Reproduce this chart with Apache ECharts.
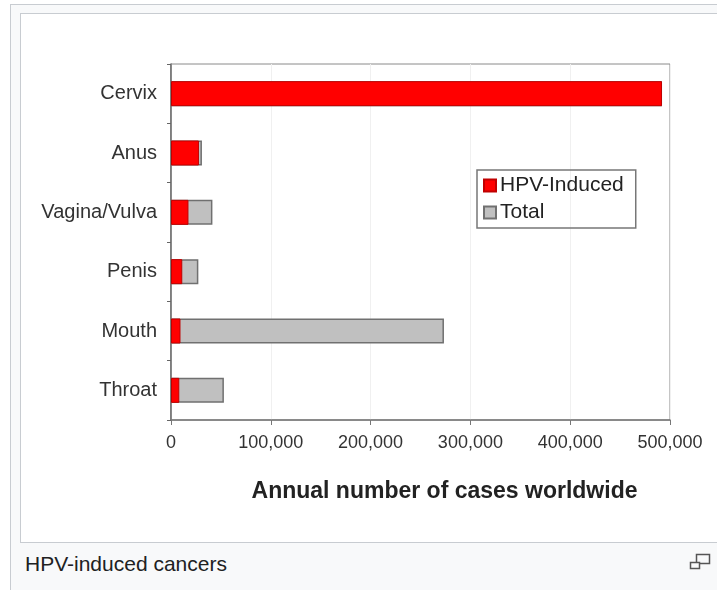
<!DOCTYPE html>
<html>
<head>
<meta charset="utf-8">
<title>HPV-induced cancers</title>
<script src="https://cdn.jsdelivr.net/npm/echarts@6/dist/echarts.min.js"></script>
<style>
  html, body { margin: 0; padding: 0; background: #fff; }
  body { width: 717px; height: 590px; position: relative; overflow: hidden; font-family: "Liberation Sans", Arial, sans-serif; }
  .thumb { position: absolute; left: 10px; top: 4px; width: 720px; height: 600px; background: #f8f9fa; border: 1px solid #c8ccd1; }
  .img { position: absolute; left: 20px; top: 13px; width: 720px; height: 528px; background: #fff; border: 1px solid #c8ccd1; }
  .caption { position: absolute; left: 25px; top: 552px; font-size: 21px; color: #202122; }
  .magnify { position: absolute; left: 689px; top: 553px; width: 26px; height: 18px; }
  #chart { position: absolute; left: 0; top: 0; width: 717px; height: 590px; }
</style>
</head>
<body>
<div class="thumb"></div>
<div class="img"></div>
<div class="caption">HPV-induced cancers</div>
<svg class="magnify" viewBox="0 0 26 18">
  <rect x="7.5" y="1.5" width="13" height="9" fill="none" stroke="#555" stroke-width="1.5"/>
  <rect x="1.5" y="9.5" width="9" height="6" fill="#f8f9fa" stroke="#555" stroke-width="1.5"/>
</svg>
<div id="chart"></div>
<script>
// 数据
var categories = ['Cervix', 'Anus', 'Vagina/Vulva', 'Penis', 'Mouth', 'Throat'];
var hpvInduced = [492000, 28000, 17500, 11300, 9500, 8300];
var totalCases = [492000, 31000, 41500, 27400, 273500, 53000];

var myChart = echarts.init(document.getElementById('chart'));

var option = {
    animation: false,
    textStyle: { fontFamily: '"Liberation Sans", Arial, sans-serif' },
    grid: {
        left: 171, top: 64, width: 499, height: 356,
        show: true, borderColor: '#8a8a8a', borderWidth: 1,
        containLabel: false
    },
    legend: {
        data: ['HPV-Induced', 'Total'],
        orient: 'vertical',
        left: 477, top: 170,
        padding: [5, 12, 5, 6],
        itemWidth: 12, itemHeight: 12, itemGap: 6,
        borderColor: '#777', borderWidth: 1.5,
        icon: 'rect',
        textStyle: { fontSize: 21, color: '#222', padding: [0, 0, 0, -1] }
    },
    xAxis: {
        type: 'value',
        min: 0, max: 500000, interval: 100000,
        name: 'Annual number of cases worldwide',
        nameLocation: 'middle',
        nameGap: 60,
        nameTextStyle: { fontSize: 23, fontWeight: 'bold', color: '#222', padding: [0, 0, 0, 48] },
        axisLine: { show: true, lineStyle: { color: '#777', width: 1.5 } },
        axisTick: { show: true, length: 5, lineStyle: { color: '#777' } },
        axisLabel: {
            fontSize: 18, color: '#333', margin: 14,
            formatter: function (v) { return v.toLocaleString('en-US'); }
        },
        splitLine: { show: true, lineStyle: { color: '#f0f0f0' } }
    },
    yAxis: {
        type: 'category',
        data: categories,
        inverse: true,
        axisLine: { show: true, lineStyle: { color: '#666', width: 1.5 } },
        axisTick: { show: true, length: 4, lineStyle: { color: '#666' } },
        axisLabel: { fontSize: 20, color: '#333', margin: 14 }
    },
    series: [
        {
            name: 'Total',
            type: 'bar',
            data: totalCases,
            barWidth: 25,
            barGap: '-100%',
            itemStyle: { color: '#c0c0c0', borderColor: '#707070', borderWidth: 1.5 }
        },
        {
            name: 'HPV-Induced',
            type: 'bar',
            data: hpvInduced,
            barWidth: 25,
            itemStyle: { color: '#ff0000', borderColor: '#c00000', borderWidth: 1 }
        }
    ]
};

myChart.setOption(option);
window.addEventListener('resize', function () {
    myChart.resize();
});
</script>
</body>
</html>
